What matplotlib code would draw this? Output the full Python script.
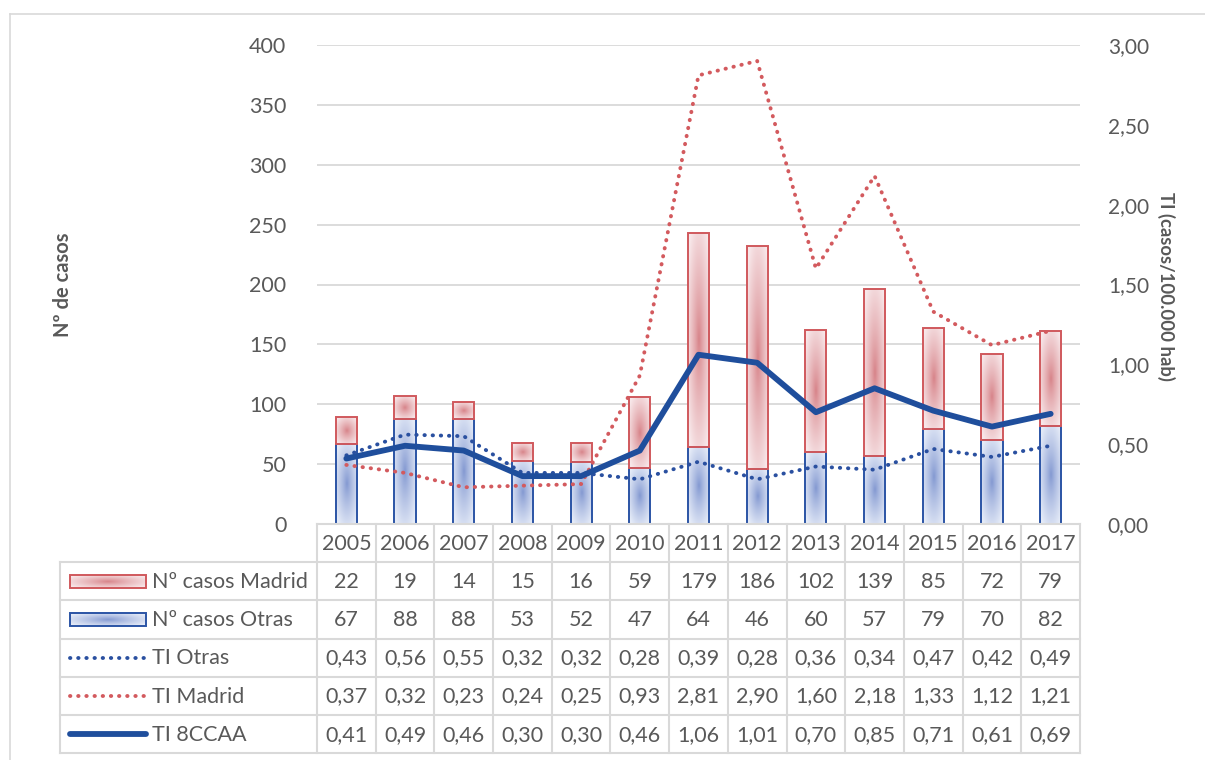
import numpy as np
import matplotlib
matplotlib.use("Agg")
import matplotlib.pyplot as plt
from matplotlib.patches import Rectangle
from matplotlib.lines import Line2D
from matplotlib.ticker import FuncFormatter, MultipleLocator

plt.rcParams['font.family'] = ['Lato', 'DejaVu Sans']

years = ['2005', '2006', '2007', '2008', '2009', '2010', '2011',
         '2012', '2013', '2014', '2015', '2016', '2017']
casos_madrid = [22, 19, 14, 15, 16, 59, 179, 186, 102, 139, 85, 72, 79]
casos_otras = [67, 88, 88, 53, 52, 47, 64, 46, 60, 57, 79, 70, 82]
ti_otras = [0.43, 0.56, 0.55, 0.32, 0.32, 0.28, 0.39, 0.28, 0.36, 0.34, 0.47, 0.42, 0.49]
ti_madrid = [0.37, 0.32, 0.23, 0.24, 0.25, 0.93, 2.81, 2.90, 1.60, 2.18, 1.33, 1.12, 1.21]
ti_8ccaa = [0.41, 0.49, 0.46, 0.30, 0.30, 0.46, 1.06, 1.01, 0.70, 0.85, 0.71, 0.61, 0.69]

row_labels = ['Nº casos Madrid', 'Nº casos Otras', 'TI Otras', 'TI Madrid', 'TI 8CCAA']

TXT = '#595959'
GRID = '#D9D9D9'
RED_EDGE = '#D0595D'
BLUE_EDGE = '#2B54A5'
RED_LINE = '#D35A5E'
BLUE_DOT = '#2A50A0'
BLUE_LINE = '#1F4E9C'
RED_CENTER = np.array([214, 128, 134]) / 255
RED_LIGHT = np.array([248, 232, 234]) / 255
BLUE_CENTER = np.array([128, 150, 208]) / 255
BLUE_LIGHT = np.array([230, 236, 248]) / 255

W, H = 1205, 760
fig = plt.figure(figsize=(W / 100, H / 100), dpi=100)
fig.patch.set_facecolor('white')


def fx(px):
    return px / W


def fy(py):
    return 1 - py / H


# outer chart frame
fig.add_artist(Line2D([fx(10), fx(10)], [fy(14), 0], color=GRID, lw=1.2))
fig.add_artist(Line2D([fx(10), 1], [fy(14), fy(14)], color=GRID, lw=1.2))

x0, x1 = 317, 1080
y_top, y_zero = 45, 524
ax = fig.add_axes([fx(x0), fy(y_zero), fx(x1) - fx(x0), fy(y_top) - fy(y_zero)])
ax2 = ax.twinx()

n = len(years)
x = np.arange(n)


def gradient_rect(axis, xa, xb, ya, yb, center, light, edge, lw=1.4, z=2):
    nx, ny = 40, 80
    u = np.linspace(-1, 1, nx)
    v = np.linspace(-1, 1, ny)
    U, V = np.meshgrid(u, v)
    t = np.clip(np.sqrt(U ** 2 + V ** 2) / 1.25, 0, 1)[..., None] ** 0.8
    img = center * (1 - t) + light * t
    im = axis.imshow(img, extent=(xa, xb, ya, yb), aspect='auto',
                     interpolation='bilinear', zorder=z, origin='lower')
    r = Rectangle((xa, min(ya, yb)), xb - xa, abs(yb - ya), facecolor='none',
                  edgecolor=edge, lw=lw, zorder=z + 0.1)
    axis.add_patch(r)
    im.set_clip_path(r)


bw = 0.36
for i in range(n):
    gradient_rect(ax, x[i] - bw / 2, x[i] + bw / 2, 0, casos_otras[i],
                  BLUE_CENTER, BLUE_LIGHT, BLUE_EDGE)
    gradient_rect(ax, x[i] - bw / 2, x[i] + bw / 2, casos_otras[i],
                  casos_otras[i] + casos_madrid[i],
                  RED_CENTER, RED_LIGHT, RED_EDGE)

fs = 15.5

ax.set_xlim(-0.5, n - 0.5)
ax.set_ylim(0, 400)
ax.yaxis.set_major_locator(MultipleLocator(50))
ax.grid(axis='y', color=GRID, lw=1.3, zorder=0)
ax.set_axisbelow(True)
ax.set_xticks([])
for s in ax.spines.values():
    s.set_visible(False)
ax.tick_params(axis='y', length=0, pad=22, labelsize=fs, labelcolor=TXT)

dot_style = (0, (0.1, 2.0))
ax2.plot(x, ti_madrid, color=RED_LINE, lw=2.8, linestyle=dot_style,
         dash_capstyle='round', zorder=3)
ax2.plot(x, ti_otras, color=BLUE_DOT, lw=2.8, linestyle=dot_style,
         dash_capstyle='round', zorder=3)
ax2.plot(x, ti_8ccaa, color=BLUE_LINE, lw=4.2, solid_capstyle='round',
         solid_joinstyle='round', zorder=4)
ax2.set_ylim(0, 3)
ax2.yaxis.set_major_locator(MultipleLocator(0.5))
ax2.yaxis.set_major_formatter(FuncFormatter(lambda v, p: f'{v:.2f}'.replace('.', ',')))
for s in ax2.spines.values():
    s.set_visible(False)
ax2.tick_params(axis='y', length=0, pad=20, labelsize=15, labelcolor=TXT)
ax2.set_xlim(-0.5, n - 0.5)

fig.text(fx(63), fy(285), 'Nº de casos', rotation=90, ha='center', va='center',
         fontsize=14.5, fontweight='bold', color=TXT)
fig.text(fx(1166), fy(286), 'TI (casos/100.000 hab)', rotation=270, ha='center',
         va='center', fontsize=13.3, fontweight='bold', color=TXT)

# data table under the plot
t_left, t_top, t_bot = 60, 524, 753
colw = (x1 - x0) / n
lead = (x0 - t_left) / colw
tab = fig.add_axes([fx(t_left), fy(t_bot), fx(x1) - fx(t_left), fy(t_top) - fy(t_bot)])
tab.set_xlim(-0.5 - lead, n - 0.5)
tab.set_ylim(6, 0)
tab.axis('off')
L = -0.5 - lead

for r in range(7):
    xs = -0.5 if r == 0 else L
    tab.plot([xs, n - 0.5], [r, r], color=GRID, lw=1.5, clip_on=False)
tab.plot([L, L], [1, 6], color=GRID, lw=1.5, clip_on=False)
for k in range(n + 1):
    tab.plot([k - 0.5, k - 0.5], [0, 6], color=GRID, lw=1.5, clip_on=False)

for i, yr in enumerate(years):
    tab.text(i, 0.52, yr, ha='center', va='center', fontsize=fs, color=TXT)

rows = [casos_madrid, casos_otras, ti_otras, ti_madrid, ti_8ccaa]
for r, vals in enumerate(rows, start=1):
    for i, v in enumerate(vals):
        s = str(v) if isinstance(v, int) else f'{v:.2f}'.replace('.', ',')
        tab.text(i, r + 0.52, s, ha='center', va='center', fontsize=fs, color=TXT)

kx0 = L + 10 / colw
kx1 = L + 86 / colw
tx = L + 92 / colw
kh = 0.34
gradient_rect(tab, kx0, kx1, 1.5 - kh / 2, 1.5 + kh / 2, RED_CENTER, RED_LIGHT, RED_EDGE, z=3)
gradient_rect(tab, kx0, kx1, 2.5 - kh / 2, 2.5 + kh / 2, BLUE_CENTER, BLUE_LIGHT, BLUE_EDGE, z=3)
tab.plot([kx0, kx1], [3.5, 3.5], color=BLUE_DOT, lw=2.8, linestyle=dot_style,
         dash_capstyle='round', clip_on=False)
tab.plot([kx0, kx1], [4.5, 4.5], color=RED_LINE, lw=2.8, linestyle=dot_style,
         dash_capstyle='round', clip_on=False)
tab.plot([kx0, kx1], [5.5, 5.5], color=BLUE_LINE, lw=4.2, solid_capstyle='round',
         clip_on=False)
tab.set_xlim(-0.5 - lead, n - 0.5)
tab.set_ylim(6, 0)
for r, lab in enumerate(row_labels, start=1):
    tab.text(tx, r + 0.52, lab, ha='left', va='center', fontsize=fs, color=TXT)

fig.savefig('out.png', dpi=100, facecolor='white')
